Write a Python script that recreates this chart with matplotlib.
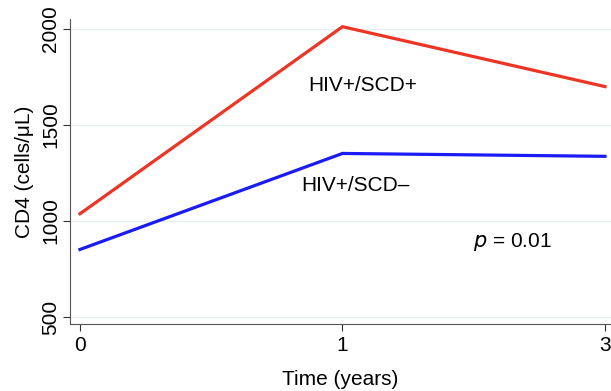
import matplotlib
matplotlib.use('Agg')
import matplotlib.pyplot as plt

# data
time_labels = ['0', '1', '3']
time_pos = [0, 1, 2]
scd_pos = [1038, 2012, 1700]
scd_neg = [852, 1352, 1337]

plt.rcParams['font.family'] = ['Liberation Sans', 'DejaVu Sans']

fig = plt.figure(figsize=(6.11, 3.91), dpi=100)
ax = fig.add_axes([70 / 611, 67 / 391, 541 / 611, 305 / 391])

ax.plot(time_pos, scd_pos, color='#ee3424', linewidth=2.3, zorder=3)
ax.plot(time_pos, scd_neg, color='#1b1bf5', linewidth=2.3, zorder=3)

ax.set_xlim(-0.038, 2.023)
ax.set_ylim(464, 2052)
ax.set_xticks(time_pos)
ax.set_xticklabels(time_labels)
ax.set_yticks([500, 1000, 1500, 2000])
ax.tick_params(axis='both', labelsize=15, length=5, width=0.8, color='#333333')
ax.tick_params(axis='y', pad=2)
for lab in ax.get_yticklabels():
    lab.set_rotation(90)
    lab.set_va('center')

ax.yaxis.grid(True, color='#e6eef0', linewidth=0.9, zorder=0)
for s in ['top', 'right']:
    ax.spines[s].set_visible(False)
for s in ['left', 'bottom']:
    ax.spines[s].set_color('#555555')
    ax.spines[s].set_linewidth(0.8)

ax.set_xlabel('Time (years)', fontsize=15, labelpad=11)
ax.set_ylabel('CD4 (cells/μL)', fontsize=15, labelpad=5)

ax.text(1.078, 1708, 'HIV+/SCD+', fontsize=15, ha='center', va='center')
ax.text(1.05, 1185, 'HIV+/SCD\u2013', fontsize=15, ha='center', va='center')
ax.text(1.646, 893, '$\\it{p}$ = 0.01', fontsize=15, ha='center', va='center')

fig.savefig('out.png', dpi=100)
